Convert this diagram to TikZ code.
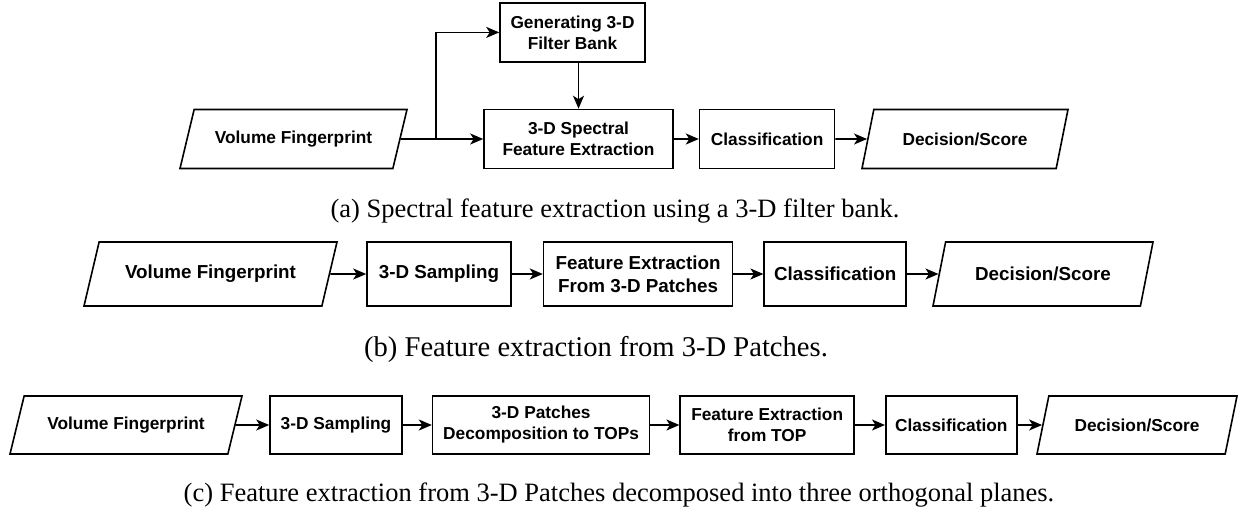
\documentclass[tikz,border=0pt]{standalone}
\usepackage{fontspec}
\setmainfont{Liberation Serif}
\newfontfamily\arialfont{Liberation Sans}
\usetikzlibrary{positioning,shapes.geometric,arrows.meta}

\tikzset{
  box/.style={draw, rectangle, align=center, inner sep=2pt},
  io/.style={draw, trapezium, trapezium left angle=55, trapezium right angle=125,
    trapezium stretches body, align=center, inner sep=2pt},
  txta/.style={font=\arialfont\bfseries\fontsize{17.3}{21}\selectfont},
  txtb/.style={font=\arialfont\bfseries\fontsize{18.8}{23}\selectfont},
  captext/.style={font=\fontsize{26.5}{30}\selectfont, anchor=base},
  arr/.style={-{Stealth[length=13pt,width=11pt,inset=3.5pt]}},
}

\begin{document}
\begin{tikzpicture}[x=1pt, y=-1pt, line width=1.6pt, node distance=30pt]
\useasboundingbox (0,0) rectangle (1239,508);

% (a) filter bank
\node[io, txta, minimum width=227pt, minimum height=59pt] (vola) at (293.5,139) {Volume Fingerprint};
\node[box, txta, minimum width=189pt, minimum height=59pt] (speca) at (578.5,139) {3-D Spectral\\Feature Extraction};
\node[box, txta, minimum width=145pt, minimum height=59pt, above=46pt of speca, xshift=-6pt] (gena) {Generating 3-D\\Filter Bank};
\node[box, txta, minimum width=135pt, minimum height=59pt, right=25pt of speca] (clsa) {Classification};
\node[io, txta, minimum width=206pt, minimum height=59pt] (deca) at (965,139) {Decision/Score};
\coordinate[left=47pt of speca] (splita);
\draw[arr] (vola) -- (speca);
\draw[arr] (splita) |- (gena);
\draw[arr] (gena.south -| speca.north) -- (speca);
\draw[arr] (speca) -- (clsa);
\draw[arr] (clsa) -- (deca);
\node[captext] (capa) at (615,217) {(a) Spectral feature extraction using a 3-D filter bank.};

% (b) 3-D patches
\node[io, txtb, minimum width=253pt, minimum height=64pt] (volb) at (210.5,274) {Volume Fingerprint};
\node[box, txtb, minimum width=144pt, minimum height=64pt] (sampb) at (439,274) {3-D Sampling};
\node[box, txtb, minimum width=189pt, minimum height=64pt, right=31pt of sampb] (featb) {Feature Extraction\\From 3-D Patches};
\node[box, txtb, minimum width=142pt, minimum height=64pt, right=30pt of featb] (clsb) {Classification};
\node[io, txtb, minimum width=220pt, minimum height=64pt] (decb) at (1043,274) {Decision/Score};
\draw[arr] (volb) -- (sampb);
\draw[arr] (sampb) -- (featb);
\draw[arr] (featb) -- (clsb);
\draw[arr] (clsb) -- (decb);
\node[captext, font=\fontsize{28.6}{32}\selectfont] (capb) at (596,356) {(b) Feature extraction from 3-D Patches.};

% (c) three orthogonal planes
\node[io, txta, minimum width=232pt, minimum height=58pt] (volc) at (126,425) {Volume Fingerprint};
\node[box, txta, minimum width=132pt, minimum height=58pt] (sampc) at (336,425) {3-D Sampling};
\node[box, txta, minimum width=217pt, minimum height=58pt, right=29pt of sampc] (topc) {3-D Patches\\Decomposition to TOPs};
\node[box, txta, minimum width=174pt, minimum height=58pt, right=29pt of topc] (featc) {Feature Extraction\\from TOP};
\node[box, txta, minimum width=131pt, minimum height=58pt, right=30pt of featc] (clsc) {Classification};
\node[io, txta, minimum width=200pt, minimum height=58pt] (decc) at (1137,425) {Decision/Score};
\draw[arr] (volc) -- (sampc);
\draw[arr] (sampc) -- (topc);
\draw[arr] (topc) -- (featc);
\draw[arr] (featc) -- (clsc);
\draw[arr] (clsc) -- (decc);
\node[captext] (capc) at (619,501) {(c) Feature extraction from 3-D Patches decomposed into three orthogonal planes.};
\end{tikzpicture}
\end{document}
